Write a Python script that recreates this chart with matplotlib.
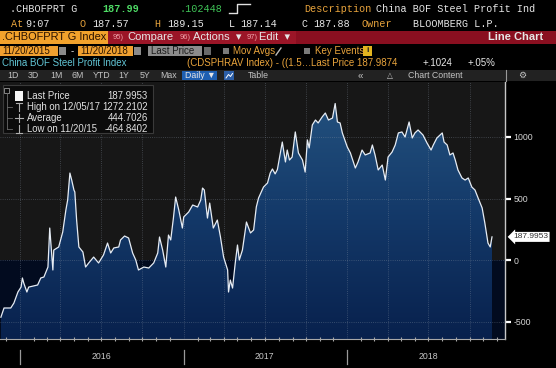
import matplotlib
matplotlib.use('Agg')
import matplotlib.pyplot as plt
import matplotlib.dates as mdates
import matplotlib.transforms as mtransforms
from matplotlib.patches import Rectangle
from matplotlib.lines import Line2D
from matplotlib.colors import LinearSegmentedColormap
import numpy as np
import pandas as pd

# ---------------- data ----------------
dates = [
    '2015-11-20', '2015-11-27', '2015-12-12', '2015-12-19', '2015-12-28',
    '2016-01-04', '2016-01-07', '2016-01-10', '2016-01-17', '2016-01-21',
    '2016-02-10', '2016-02-17', '2016-02-24', '2016-03-04', '2016-03-08',
    '2016-03-15', '2016-03-17', '2016-03-28', '2016-04-06', '2016-04-13',
    '2016-04-17', '2016-04-22', '2016-04-26', '2016-05-01', '2016-05-03',
    '2016-05-07', '2016-05-12', '2016-05-21', '2016-05-27', '2016-06-03',
    '2016-06-14', '2016-06-25', '2016-07-06', '2016-07-15', '2016-07-22',
    '2016-07-29', '2016-08-09', '2016-08-13', '2016-08-22', '2016-08-31',
    '2016-09-09', '2016-09-16', '2016-09-22', '2016-10-04', '2016-10-15',
    '2016-10-26', '2016-11-04', '2016-11-08', '2016-11-15', '2016-11-22',
    '2016-11-28', '2016-12-03', '2016-12-09', '2016-12-14', '2016-12-21',
    '2016-12-29', '2017-01-01', '2017-01-12', '2017-01-21', '2017-02-01',
    '2017-02-08', '2017-02-12', '2017-02-16', '2017-02-23', '2017-02-28',
    '2017-03-08', '2017-03-17', '2017-03-24', '2017-03-31', '2017-04-09',
    '2017-04-11', '2017-04-15', '2017-04-20', '2017-04-26', '2017-05-01',
    '2017-05-05', '2017-05-12', '2017-05-21', '2017-05-30', '2017-06-06',
    '2017-06-12', '2017-06-17', '2017-06-28', '2017-07-07', '2017-07-13',
    '2017-07-18', '2017-07-24', '2017-07-29', '2017-08-09', '2017-08-16',
    '2017-08-20', '2017-08-25', '2017-08-31', '2017-09-07', '2017-09-14',
    '2017-09-23', '2017-09-29', '2017-10-04', '2017-10-08', '2017-10-15',
    '2017-10-22', '2017-10-28', '2017-11-06', '2017-11-13', '2017-11-20',
    '2017-11-29', '2017-12-05', '2017-12-10', '2017-12-16', '2017-12-21',
    '2018-01-01', '2018-01-08', '2018-01-19', '2018-01-25', '2018-02-03',
    '2018-02-10', '2018-02-21', '2018-02-26', '2018-03-04', '2018-03-11',
    '2018-03-20', '2018-03-27', '2018-04-02', '2018-04-11', '2018-04-18',
    '2018-04-25', '2018-05-03', '2018-05-10', '2018-05-19', '2018-05-26',
    '2018-06-01', '2018-06-08', '2018-06-19', '2018-06-28', '2018-07-07',
    '2018-07-12', '2018-07-20', '2018-08-01', '2018-08-05', '2018-08-12',
    '2018-08-18', '2018-08-25', '2018-08-30', '2018-09-05', '2018-09-14',
    '2018-09-21', '2018-09-28', '2018-10-06', '2018-10-13', '2018-10-20',
    '2018-10-29', '2018-11-04', '2018-11-11', '2018-11-16', '2018-11-20',
]
values = [
    -464.8, -390, -390, -350, -260,
    -220, -146, -187, -260, -220,
    -203, -146, -138, -57, 260,
    -81, 81, 106, 228, 406,
    488, 707, 650, 569, 553,
    325, 106, 65, -57, -24,
    24, -24, 41, 138, 57,
    98, 106, 163, 195, 179,
    57, 0, -81, -57, -65,
    -24, 57, 187, 81, -57,
    203, 163, 341, 512, 406,
    260, 350, 390, 447, 431,
    488, 585, 569, 341, 463,
    260, 325, 187, 24, -81,
    -260, -163, -228, -24, 122,
    0, 81, 309, 220, 244,
    431, 504, 593, 626, 707,
    740, 700, 735, 959, 797,
    894, 813, 837, 1041, 870,
    813, 715, 976, 911, 1098,
    1138, 1114, 1163, 1195, 1138,
    1154, 1272.2, 1122, 1114, 1033,
    919, 870, 748, 797, 894,
    854, 870, 935, 854, 732,
    772, 650, 837, 878, 935,
    1033, 1041, 1000, 1122, 992,
    1033, 1057, 1016, 951, 894,
    935, 992, 1033, 959, 935,
    854, 870, 813, 732, 667,
    650, 667, 593, 569, 504,
    423, 301, 138, 106, 188.0,
]
assert len(dates) == len(values)

y_ticks = [-500, 0, 500, 1000]
y_tick_labels = ['-500', '0', '500', '1000']
year_labels = ['2016', '2017', '2018']
last_price_label = '187.9953'
legend_rows = [('Last Price', '187.9953'), ('High on 12/05/17', '1272.2102'),
               ('Average', '444.7026'), ('Low on 11/20/15', '-464.8402')]

# ---------------- figure ----------------
W, H = 556, 368
fig = plt.figure(figsize=(W / 100, H / 100), dpi=100)
fig.patch.set_facecolor('black')

def fx(x):
    return x / W

def fy(y):
    return 1 - y / H

MONO = ['Liberation Mono', 'DejaVu Sans Mono']
SANS = ['Liberation Sans', 'DejaVu Sans']
ORANGE = '#e9a43c'

def ftext(x, y, s, color='#e6e6e6', size=7.3, family=MONO, weight='normal', ha='left'):
    fig.text(fx(x), fy(y), s, color=color, fontsize=size, family=family,
             weight=weight, ha=ha, va='center')

def frect(x0, y0, x1, y1, color, ec='none', lw=0):
    fig.add_artist(Rectangle((fx(x0), fy(y1)), fx(x1) - fx(x0), fy(y0) - fy(y1),
                             transform=fig.transFigure, facecolor=color,
                             edgecolor=ec, linewidth=lw))

def fline(xs, ys, color, lw=1.0):
    fig.add_artist(Line2D([fx(v) for v in xs], [fy(v) for v in ys],
                          transform=fig.transFigure, color=color, linewidth=lw))

# ---- row 1 ----
ftext(10, 9, '.CHBOFPRT G')
ftext(102, 9, '187.99', color='#4fdc66', weight='bold')
ftext(180, 9, '.102448', color='#3fc457')
fline([229, 237, 237, 250], [13, 13, 4, 4], '#e0e0e0', 1.0)
ftext(304, 9, 'Description', color=ORANGE)
ftext(376, 9, 'China BOF Steel Profit Ind')
# ---- row 2 ----
ftext(11, 24, 'At', color=ORANGE)
ftext(25, 24, '9:07')
ftext(80, 24, 'O', color=ORANGE)
ftext(92, 24, '187.57')
ftext(154, 24, 'H', color=ORANGE)
ftext(167, 24, '189.15')
ftext(229, 24, 'L')
ftext(240, 24, '187.14')
ftext(302, 24, 'C')
ftext(313, 24, '187.88')
ftext(362, 24, 'Owner', color=ORANGE)
ftext(413, 24, 'BLOOMBERG L.P.')

# ---- row 3 (red bar) ----
frect(0, 31, W, 44, '#8a0f20')
frect(108, 31, 296, 44, '#9b1527')
frect(0, 31, 108, 44, '#f2a22c')
ftext(2, 37.5, '.CHBOFPRT G Index', color='#2a1200', size=7.9, family=SANS)
ftext(113, 37.5, '95)', color='#f0a0a8', size=5.5, family=SANS)
ftext(127, 37.5, 'Compare', size=8, family=SANS)
ftext(180, 37.5, '96)', color='#f0a0a8', size=5.5, family=SANS)
ftext(193, 37.5, 'Actions  \u25be', size=8, family=SANS)
ftext(247, 37.5, '97)', color='#f0a0a8', size=5.5, family=SANS)
ftext(259, 37.5, 'Edit  \u25be', size=8, family=SANS)
ftext(543, 37.5, 'Line Chart', size=8, family=SANS, weight='bold', ha='right')

# ---- row 4 ----
frect(0, 46, 58, 56, '#f0a030')
ftext(2, 51, '11/20/2015', color='#2a1400', size=7, family=SANS)
frect(59, 47, 66, 55, '#8a8a8a')
ftext(71, 51, '-', size=7, family=SANS)
frect(78, 46, 133, 56, '#f0a030')
ftext(80, 51, '11/20/2018', color='#2a1400', size=7, family=SANS)
frect(134, 47, 141, 55, '#8a8a8a')
frect(148, 46, 202, 56, '#8c8c8c')
ftext(151, 51, 'Last Price', color='#1c1c1c', size=7, family=SANS)
frect(204, 47, 211, 55, '#6a6a6a')
frect(223, 48, 229, 54, '#7a7a7a')
ftext(233, 51, 'Mov Avgs', color=ORANGE, size=7, family=SANS)
fline([276, 281], [55, 48], '#bbbbbb', 1.0)
frect(304, 48, 310, 54, '#7a7a7a')
ftext(315, 51, 'Key Events', color=ORANGE, size=7, family=SANS)
frect(363, 46, 372, 56, '#e3b51f')
ftext(367.5, 51, 'i', color='#222222', size=6, family=SANS, weight='bold', ha='center')

# ---- row 5 ----
ftext(2, 63, 'China BOF Steel Profit Index', color='#62c6d6', size=7, family=SANS)
ftext(187, 63, '(CDSPHRAV Index) - ((1.5\u2026', color=ORANGE, size=7, family=SANS)
ftext(311, 63, 'Last Price 187.9874', color=ORANGE, size=7, family=SANS)
ftext(423, 63, '+.1024', size=7, family=SANS)
ftext(468, 63, '+.05%', size=7, family=SANS)

# ---- row 6 (toolbar) ----
frect(0, 70, W, 81, '#222222')
for lbl, xx in [('1D', 7), ('3D', 28), ('1M', 50), ('6M', 71), ('YTD', 93),
                ('1Y', 118), ('5Y', 140), ('Max', 160)]:
    ftext(xx, 75.5, lbl, color='#c4c4c4', size=6.3, family=SANS)
frect(182, 71, 217, 80, '#1e5fb2')
ftext(185, 75.5, 'Daily \u25bc', size=6.3, family=SANS)
frect(224, 71, 234, 80, '#2c5ea6')
fline([226, 228.5, 230.5, 232.5], [78, 74.5, 76.5, 73.5], '#ffffff', 0.7)
ftext(248, 75.5, 'Table', color='#c4c4c4', size=6.3, family=SANS)
ftext(358, 75.5, '\u00ab', color='#c4c4c4', size=7, family=SANS)
ftext(387, 75.5, '\u25b3', color='#c4c4c4', size=5.5, family=['DejaVu Sans'])
ftext(408, 75.5, 'Chart Content', color='#c4c4c4', size=6.3, family=SANS)
ftext(518, 75.5, '\u2699', color='#c4c4c4', size=6.5, family=['DejaVu Sans'])
fline([506, 506], [70, 81], '#9a9a9a', 0.8)

# ---------------- chart ----------------
ax = fig.add_axes([0, fy(339), fx(505), (339 - 82) / H])
x = mdates.date2num(pd.to_datetime(dates))
xmin = mdates.date2num(pd.Timestamp('2015-11-18'))
xmax = mdates.date2num(pd.Timestamp('2018-12-19'))
ymin, ymax = -642, 1447

ax.axhspan(0, ymax, color='#171717', zorder=0, lw=0)
ax.axhspan(ymin, 0, color='#020b1f', zorder=0, lw=0)

poly = ax.fill_between(x, values, ymin, facecolor='none', edgecolor='none')
cmap = LinearSegmentedColormap.from_list('bb', ['#08214d', '#133868', '#23517e'])
grad = np.linspace(0, 1, 256).reshape(-1, 1)
im = ax.imshow(grad, extent=[x[0], x[-1], ymin, 1300], aspect='auto', cmap=cmap,
               origin='lower', zorder=1)
im.set_clip_path(poly.get_paths()[0], transform=ax.transData)

ax.plot(x, values, color='#e6ecf4', lw=0.9, zorder=3)

grid_kw = dict(color='#8a96a6', lw=0.6, ls=(0, (1, 1.6)), alpha=0.45, zorder=2)
for q in pd.date_range('2016-01-01', '2018-10-01', freq='QS'):
    ax.axvline(mdates.date2num(q), **grid_kw)
for yv in y_ticks:
    ax.axhline(yv, **grid_kw)

ax.set_xlim(xmin, xmax)
ax.set_ylim(ymin, ymax)
ax.set_facecolor('black')
for side in ['top', 'left']:
    ax.spines[side].set_visible(False)
ax.spines['bottom'].set_color('#a8a8a8')
ax.spines['right'].set_color('#c8c8c8')
ax.spines['right'].set_linewidth(1.0)

ax.yaxis.tick_right()
ax.set_yticks(y_ticks)
ax.set_yticklabels(y_tick_labels, family=SANS)
ax.tick_params(axis='y', colors='white', labelcolor='#d4d4d4', length=4, width=1.6,
               labelsize=6.3, pad=2)

ax.xaxis.set_major_locator(mdates.YearLocator())
ax.xaxis.set_minor_locator(mdates.MonthLocator())
ax.set_xticklabels([])
ax.tick_params(axis='x', which='major', length=0)
ax.tick_params(axis='x', which='minor', length=3, width=0.8, color='#a8a8a8',
               direction='inout')
ax.xaxis.set_minor_formatter(plt.NullFormatter())

blend = mtransforms.blended_transform_factory(ax.transData, ax.transAxes)
for yr, lbl in zip([2016, 2017, 2018], year_labels):
    d0 = mdates.date2num(pd.Timestamp(f'{yr}-01-01'))
    ax.plot([d0, d0], [-0.043, -0.097], transform=blend, color='#9a9a9a', lw=0.9,
            clip_on=False)
    dm = mdates.date2num(pd.Timestamp(f'{yr}-07-01'))
    ax.text(dm, -0.07, lbl, transform=blend, ha='center', va='center',
            color='#c8c8c8', fontsize=6.3, family=SANS)

yblend = mtransforms.blended_transform_factory(ax.transAxes, ax.transData)
ax.text(1.016, values[-1], last_price_label, transform=yblend, ha='left', va='center',
        color='#333333', fontsize=6, family=SANS,
        bbox=dict(boxstyle='larrow,pad=0.18', fc='white', ec='none'), clip_on=False)

# ---- legend box ----
frect(3, 85, 153, 133, '#0b0b0b', ec='#3a3a3a', lw=0.8)
rows_y = [96, 107, 118, 129]
for (lab, val), yy in zip(legend_rows, rows_y):
    ftext(27, yy, lab, color='#e2e2e2', size=6.9, family=SANS)
    ftext(148, yy, val, color='#e2e2e2', size=6.9, family=SANS, ha='right')
frect(4, 88, 9, 93, '#0b0b0b', ec='#9a9a9a', lw=0.6)
fline([6.5, 6.5], [93, 129], '#6a6a6a', 0.6)
for yy in rows_y[1:]:
    fline([6.5, 12], [yy, yy], '#6a6a6a', 0.6)
frect(15, 91, 23, 101, '#f4f4f4')
fline([16, 22], [103, 103], '#b0b0b0', 0.8)
fline([19, 19], [103, 111], '#b0b0b0', 0.8)
fline([15, 23], [118, 118], '#b0b0b0', 0.8)
fline([19, 19], [114, 122], '#b0b0b0', 0.8)
fline([19, 19], [125, 133], '#b0b0b0', 0.8)
fline([16, 22], [133, 133], '#b0b0b0', 0.8)

fig.savefig('out.png', dpi=100, facecolor=fig.get_facecolor())
